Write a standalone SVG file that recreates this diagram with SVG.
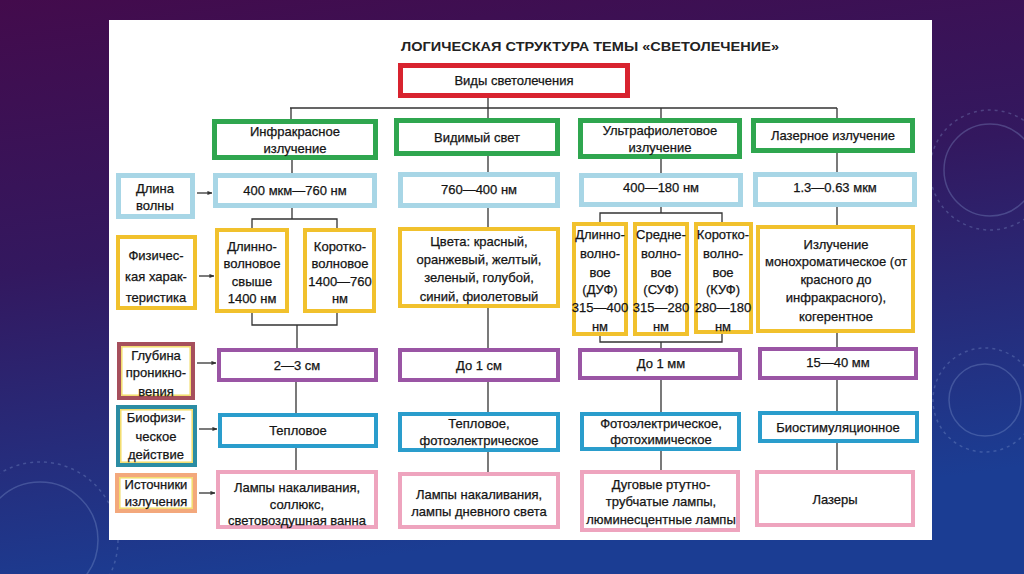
<svg xmlns="http://www.w3.org/2000/svg" width="1024" height="574" viewBox="0 0 1024 574">
<defs>
<linearGradient id="bg" x1="0" y1="0" x2="0.25" y2="1">
<stop offset="0" stop-color="#430b4c"/>
<stop offset="0.45" stop-color="#33185f"/>
<stop offset="1" stop-color="#1b3d93"/>
</linearGradient>
<marker id="arr" viewBox="0 0 6 6" refX="5.5" refY="3" markerWidth="5" markerHeight="5" orient="auto" markerUnits="userSpaceOnUse">
<path d="M0,0.5 L6,3 L0,5.5 Z" fill="#333"/>
</marker>
<style>
.t{font-family:"Liberation Sans","Noto Sans",sans-serif;font-size:13px;fill:#141414;stroke:#141414;stroke-width:0.25;text-anchor:middle}
.red{stroke:#d8232f;stroke-width:5;fill:#fff}
.grn{stroke:#2fa64f;stroke-width:5;fill:#fff}
.lb{stroke:#a8d6e6;stroke-width:5;fill:#fff}
.yel{stroke:#f1c12d;stroke-width:4;fill:#fff}
.pur{stroke:#9a55a4;stroke-width:4;fill:#fff}
.blu{stroke:#2a9dcc;stroke-width:4;fill:#fff}
.pnk{stroke:#eea4be;stroke-width:4;fill:#fff}
.inner{fill:none;stroke:#f3dc6a;stroke-width:1.5}
.c{stroke:#333;stroke-width:1.3;fill:none}
.deco{fill:none;stroke:#8fa4d8;stroke-opacity:0.3;stroke-width:1.5}
</style>
</defs>
<rect width="1024" height="574" fill="url(#bg)"/>
<g id="decor">
<circle class="deco" cx="990" cy="170" r="46"/>
<circle class="deco" cx="990" cy="170" r="60" stroke-dasharray="3 4"/>
<circle class="deco" cx="985" cy="400" r="36"/>
<circle class="deco" cx="985" cy="400" r="52" stroke-dasharray="3 4"/>
<circle class="deco" cx="40" cy="540" r="58"/>
<circle class="deco" cx="40" cy="540" r="78" stroke-dasharray="3 4"/>
</g>
<rect x="109" y="20" width="823" height="520" fill="#fff"/>
<text x="590" y="51" font-family="Liberation Sans, sans-serif" font-size="13" font-weight="bold" fill="#222" text-anchor="middle" textLength="378" lengthAdjust="spacingAndGlyphs">ЛОГИЧЕСКАЯ СТРУКТУРА ТЕМЫ «СВЕТОЛЕЧЕНИЕ»</text>

<g id="connectors">
<path class="c" d="M488,98 V108 M290,108 H837 M291,108 V119 M488,108 V118 M661,108 V118 M837,108 V118"/>
<path class="c" d="M292,160 V173 M292,208 V219 M252,228 V219 H337 V228 M252,313 V325 H337 V313 M297,325 V348 M296,382 V413 M296,448 V470"/>
<path class="c" d="M488,156 V172 M488,208 V227 M488,308 V348 M488,382 V412 M488,452 V472"/>
<path class="c" d="M661,159 V173 M661,207 V213 M600,222 V213 H722 V222 M600,336 V342 H722 V334 M661,342 V348 M661,380 V412 M661,451 V470"/>
<path class="c" d="M837,153 V172 M837,207 V225 M837,333 V347 M837,380 V411 M837,443 V470"/>
<path class="c" marker-end="url(#arr)" d="M197,193 H212"/>
<path class="c" marker-end="url(#arr)" d="M199,276 H214"/>
<path class="c" marker-end="url(#arr)" d="M197,363 H216"/>
<path class="c" marker-end="url(#arr)" d="M199,429 H217"/>
<path class="c" marker-end="url(#arr)" d="M199,493 H215"/>
</g>

<g id="root"><rect class="red" x="400.5" y="65.5" width="227" height="30"/><text class="t" x="514" y="85">Виды светолечения</text></g>

<g id="ir"><rect class="grn" x="214.5" y="121.5" width="161" height="36"/><text class="t" x="295" y="136">Инфракрасное</text><text class="t" x="295" y="153">излучение</text></g>
<g id="visible"><rect class="grn" x="396.5" y="120.5" width="161" height="33"/><text class="t" x="477" y="142">Видимый свет</text></g>
<g id="uv"><rect class="grn" x="580.5" y="120.5" width="159" height="36"/><text class="t" x="660" y="135">Ультрафиолетовое</text><text class="t" x="660" y="152">излучение</text></g>
<g id="laser"><rect class="grn" x="753.5" y="120.5" width="159" height="30"/><text class="t" x="833" y="140">Лазерное излучение</text></g>

<g id="lbl-wave"><rect class="lb" x="118.5" y="175.5" width="74" height="41"/><text class="t" x="155" y="193">Длина</text><text class="t" x="155" y="210">волны</text></g>
<g id="ir-wave"><rect class="lb" x="215.5" y="175.5" width="159" height="30"/><text class="t" x="295" y="195">400 мкм—760 нм</text></g>
<g id="vis-wave"><rect class="lb" x="400.5" y="174.5" width="157" height="31"/><text class="t" x="479" y="194">760—400 нм</text></g>
<g id="uv-wave"><rect class="lb" x="581.5" y="175.5" width="159" height="29"/><text class="t" x="661" y="192">400—180 нм</text></g>
<g id="las-wave"><rect class="lb" x="755.5" y="174.5" width="159" height="30"/><text class="t" x="835" y="192">1.3—0.63 мкм</text></g>

<g id="lbl-phys"><rect class="yel" x="118" y="237" width="77" height="71"/><text class="t" x="156" y="260">Физичес-</text><text class="t" x="156" y="281">кая харак-</text><text class="t" x="156" y="302">теристика</text></g>
<g id="ir-long"><rect class="yel" x="217" y="230" width="70" height="81"/><text class="t" x="252" y="251">Длинно-</text><text class="t" x="252" y="268">волновое</text><text class="t" x="252" y="286">свыше</text><text class="t" x="252" y="303">1400 нм</text></g>
<g id="ir-short"><rect class="yel" x="305" y="230" width="69" height="81"/><text class="t" x="340" y="251">Коротко-</text><text class="t" x="340" y="268">волновое</text><text class="t" x="340" y="286">1400—760</text><text class="t" x="340" y="303">нм</text></g>
<g id="vis-colors"><rect class="yel" x="400" y="229" width="158" height="77"/><text class="t" x="479" y="246">Цвета: красный,</text><text class="t" x="479" y="264">оранжевый, желтый,</text><text class="t" x="479" y="282">зеленый, голубой,</text><text class="t" x="479" y="301">синий, фиолетовый</text></g>
<g id="uv-long"><rect class="yel" x="574" y="224" width="52" height="110"/><text class="t" x="600" y="239">Длинно-</text><text class="t" x="600" y="258">волно-</text><text class="t" x="600" y="277">вое</text><text class="t" x="600" y="294">(ДУФ)</text><text class="t" x="600" y="312">315—400</text><text class="t" x="600" y="331">нм</text></g>
<g id="uv-mid"><rect class="yel" x="635" y="224" width="52" height="110"/><text class="t" x="661" y="239">Средне-</text><text class="t" x="661" y="258">волно-</text><text class="t" x="661" y="277">вое</text><text class="t" x="661" y="294">(СУФ)</text><text class="t" x="661" y="312">315—280</text><text class="t" x="661" y="331">нм</text></g>
<g id="uv-short"><rect class="yel" x="696" y="224" width="55" height="108"/><text class="t" x="723" y="239">Коротко-</text><text class="t" x="723" y="258">волно-</text><text class="t" x="723" y="277">вое</text><text class="t" x="723" y="294">(КУФ)</text><text class="t" x="723" y="312">280—180</text><text class="t" x="723" y="331">нм</text></g>
<g id="las-phys"><rect class="yel" x="758" y="227" width="155" height="104"/><text class="t" x="836" y="249">Излучение</text><text class="t" x="836" y="266">монохроматическое (от</text><text class="t" x="836" y="284">красного до</text><text class="t" x="836" y="302">инфракрасного),</text><text class="t" x="836" y="321">когерентное</text></g>

<g id="lbl-depth"><rect x="119" y="344" width="74" height="54" fill="#fff" stroke="#a64f5c" stroke-width="4"/><rect class="inner" x="121.8" y="346.8" width="68.4" height="48.4"/><text class="t" x="156" y="360">Глубина</text><text class="t" x="156" y="377">проникно-</text><text class="t" x="156" y="396">вения</text></g>
<g id="ir-depth"><rect class="pur" x="219" y="350" width="157" height="30"/><text class="t" x="297" y="370">2—3 см</text></g>
<g id="vis-depth"><rect class="pur" x="400" y="350" width="158" height="30"/><text class="t" x="479" y="370">До 1 см</text></g>
<g id="uv-depth"><rect class="pur" x="580" y="350" width="160" height="28"/><text class="t" x="661" y="368">До 1 мм</text></g>
<g id="las-depth"><rect class="pur" x="760" y="349" width="156" height="29"/><text class="t" x="838" y="367">15—40 мм</text></g>

<g id="lbl-bio"><rect x="118" y="407" width="77" height="58" fill="#fff" stroke="#2b8ca3" stroke-width="4"/><rect class="inner" x="120.8" y="409.8" width="71.4" height="52.4"/><text class="t" x="156" y="422">Биофизи-</text><text class="t" x="156" y="441">ческое</text><text class="t" x="156" y="459">действие</text></g>
<g id="ir-bio"><rect class="blu" x="220" y="415" width="156" height="31"/><text class="t" x="298" y="435">Тепловое</text></g>
<g id="vis-bio"><rect class="blu" x="400" y="414" width="158" height="36"/><text class="t" x="479" y="428">Тепловое,</text><text class="t" x="479" y="445">фотоэлектрическое</text></g>
<g id="uv-bio"><rect class="blu" x="582" y="414" width="157" height="35"/><text class="t" x="661" y="428">Фотоэлектрическое,</text><text class="t" x="661" y="444">фотохимическое</text></g>
<g id="las-bio"><rect class="blu" x="760" y="413" width="157" height="28"/><text class="t" x="838" y="432">Биостимуляционное</text></g>

<g id="lbl-src"><rect x="117" y="475" width="78" height="36" fill="#fff" stroke="#f3a87c" stroke-width="4"/><rect class="inner" x="119.8" y="477.8" width="72.4" height="30.4"/><text class="t" x="156" y="489">Источники</text><text class="t" x="156" y="506">излучения</text></g>
<g id="ir-src"><rect class="pnk" x="218" y="472" width="158" height="55"/><text class="t" x="297" y="492">Лампы накаливания,</text><text class="t" x="297" y="509">соллюкс,</text><text class="t" x="297" y="525">световоздушная ванна</text></g>
<g id="vis-src"><rect class="pnk" x="400" y="474" width="158" height="53"/><text class="t" x="479" y="499">Лампы накаливания,</text><text class="t" x="479" y="516">лампы дневного света</text></g>
<g id="uv-src"><rect class="pnk" x="582" y="472" width="156" height="58"/><text class="t" x="661" y="489">Дуговые ртутно-</text><text class="t" x="661" y="506">трубчатые лампы,</text><text class="t" x="661" y="524">люминесцентные лампы</text></g>
<g id="las-src"><rect class="pnk" x="757" y="472" width="156" height="53"/><text class="t" x="835" y="504">Лазеры</text></g>
</svg>
